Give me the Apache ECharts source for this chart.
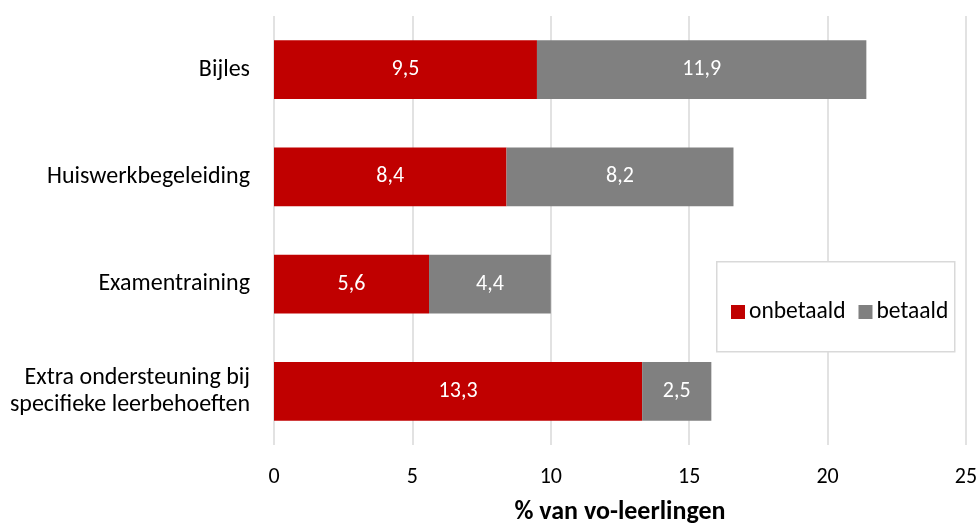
<!DOCTYPE html>
<html>
<head>
<meta charset="utf-8">
<script src="https://cdn.jsdelivr.net/npm/echarts@6/dist/echarts.min.js"></script>
<style>html,body{margin:0;padding:0;background:#fff}#c{width:980px;height:526px}</style>
</head>
<body>
<div id="c"></div>
<script>
const categories = ['Bijles', 'Huiswerkbegeleiding', 'Examentraining', 'Extra ondersteuning bij\nspecifieke leerbehoeften'];
const onbetaald = [9.5, 8.4, 5.6, 13.3];
const betaald = [11.9, 8.2, 4.4, 2.5];
const xTicks = [0, 5, 10, 15, 20, 25];

const FONT = 'Carlito, Lato, "Open Sans", sans-serif';
const chart = echarts.init(document.getElementById('c'), null, {renderer: 'canvas'});
const lbl = {
  show: true, position: 'inside', color: '#fff', fontSize: 22, fontFamily: FONT,
  formatter: p => String(p.value).replace('.', ',')
};
chart.setOption({
  animation: false,
  textStyle: {fontFamily: FONT},
  grid: {left: 274, right: 14, top: 16, bottom: 81, containLabel: false, outerBoundsMode: 'none'},
  graphic: [{
    type: 'rect', left: 716, top: 261, z: 10,
    shape: {width: 238, height: 90},
    style: {fill: '#fff', stroke: '#d9d9d9', lineWidth: 1.5}
  }],
  legend: {
    z: 20, left: 726, top: 295, itemWidth: 14, itemHeight: 14, itemGap: 13,
    icon: 'rect',
    textStyle: {fontSize: 23.5, color: '#000', fontFamily: FONT, padding: [0, 0, 0, -1]},
    data: ['onbetaald', 'betaald']
  },
  xAxis: {
    type: 'value', min: xTicks[0], max: xTicks[xTicks.length - 1], interval: 5,
    axisLine: {show: false}, axisTick: {show: false},
    splitLine: {lineStyle: {color: '#d9d9d9', width: 1.5}},
    axisLabel: {margin: 21, fontSize: 22, color: '#000', fontFamily: FONT},
    name: '% van vo-leerlingen', nameLocation: 'middle', nameGap: 54,
    nameTextStyle: {fontSize: 26, fontWeight: 'bold', color: '#000', fontFamily: FONT}
  },
  yAxis: {
    type: 'category', data: categories, inverse: true,
    axisLine: {show: false}, axisTick: {show: false},
    axisLabel: {margin: 24, fontSize: 24, color: '#000', fontFamily: FONT, lineHeight: 27}
  },
  series: [
    {name: 'onbetaald', type: 'bar', stack: 's', data: onbetaald, barWidth: '55%',
     itemStyle: {color: '#C00000'}, label: lbl},
    {name: 'betaald', type: 'bar', stack: 's', data: betaald, barWidth: '55%',
     itemStyle: {color: '#808080'}, label: lbl}
  ]
});
</script>
</body>
</html>
